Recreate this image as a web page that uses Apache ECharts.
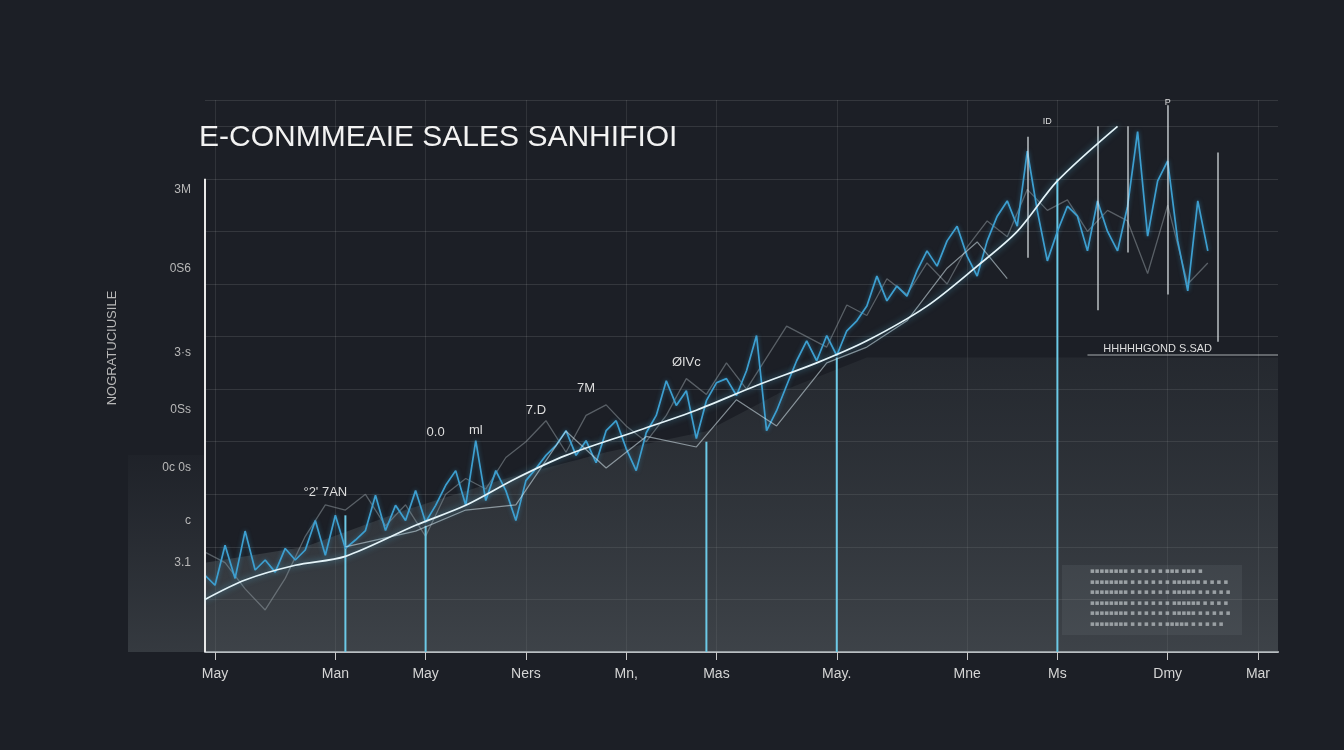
<!DOCTYPE html>
<html>
<head>
<meta charset="utf-8">
<script src="https://cdn.jsdelivr.net/npm/echarts@6/dist/echarts.min.js"></script>
<style>
  html, body { margin: 0; padding: 0; background: #1c1f26; }
  #chart { width: 1344px; height: 750px; }
</style>
</head>
<body>
<div id="chart"></div>
<script>
// x positions are category slots 0..107, labels only on a few of them
var slotCount = 108;
var tickIdx = [1, 13, 22, 32, 42, 51, 63, 76, 85, 96, 105];
var tickLabels = ['May', 'Man', 'May', 'Ners', 'Mn,', 'Mas', 'May.', 'Mne', 'Ms', 'Dmy', 'Mar'];

var yLabelVals = [88, 73, 57, 46, 35, 25, 17];
var yLabelText = ['3M', '0S6', '3·s', '0Ss', '0c 0s', 'c', '3.1'];

// white trend line
var trendIdx = [0, 4, 9, 14, 21, 26, 31, 36, 43, 49, 55, 61, 66, 72, 77, 81, 85, 91];
var trendVal = [10, 13.7, 16.5, 18.2, 24.1, 27.9, 33, 37.4, 42, 46, 50.7, 55, 59.2, 65.8, 73.4, 80, 89.6, 100];

// second, dimmer white zigzag
var zigIdx = [14, 21, 26, 31, 36, 40, 44, 49, 53, 57, 62, 66, 70, 74, 77, 80];
var zigVal = [20, 23, 27, 28, 42, 35, 41, 39, 48, 43, 55, 58, 63, 73, 78, 71];

// jagged cyan sales line, one value per slot 0..100
var cyanVal = [14.6, 12.7, 20.3, 14, 23, 15.6, 17.5, 15.2, 19.7, 17.5,
  19.4, 25, 18.4, 26, 19.7, 21.3, 23.1, 29.8, 23.1, 27.9,
  25, 30.7, 24.7, 27.9, 31.7, 34.5, 27.9, 40.2, 28.8, 34.5,
  30.7, 25, 32.6, 34.9, 37.4, 39.3, 42.1, 37.4, 40.2, 36,
  42.1, 44, 38.7, 34.5, 41.7, 45, 51.6, 46.9, 49.7, 40.6,
  47.8, 51.2, 52, 48.8, 53.5, 60.2, 42.1, 45.9, 50.7, 55.4,
  59.2, 55.4, 60.2, 56.4, 61.1, 63, 65.8, 71.5, 66.8, 69.6,
  67.7, 72.5, 76.3, 73.4, 78.2, 81, 75.3, 71.5, 78.2, 82.9,
  85.8, 81, 95.3, 83.9, 74.4, 80, 84.8, 82.9, 76.3, 85.8,
  80, 76.3, 84.8, 99, 79.1, 89.6, 93.4, 78.2, 68.7, 85.8, 76.3];

// faded gray line, every other slot
var grayIdx = [0, 2, 4, 6, 8, 10, 12, 14, 16, 18, 20, 22, 24, 26, 28, 30, 32, 34, 36, 38,
  40, 42, 44, 46, 48, 50, 52, 54, 56, 58, 60, 62, 64, 66, 68, 70, 72, 74, 76, 78,
  80, 82, 84, 86, 88, 90, 92, 94, 96, 98, 100];
var grayVal = [19, 17, 12, 8, 14, 22, 28, 27, 30, 24, 28, 22, 30, 33, 31, 37, 40, 44, 38, 45,
  47, 43, 40, 45, 52, 49, 55, 50, 56, 62, 60, 58, 66, 64, 71, 68, 74, 70, 77, 82,
  79, 88, 84, 86, 80, 84, 82, 72, 85, 70, 74];

// shaded region under the data
var shadeIdx = [0, 10, 20, 30, 40, 50, 58, 66, 107];
var shadeVal = [17, 20, 27, 33, 38, 42, 50, 56, 56];

// thin vertical bars from the baseline
var spikeIdx = [14, 22, 50, 63, 85];
var spikeVal = [26, 24, 40, 56, 90];

// floating vertical segments at the top right
var segIdx = [82, 89, 92, 96, 101];
var segLow = [75, 65, 76, 68, 59];
var segHigh = [98, 100, 100, 104, 95];

// small annotation texts
var noteIdx = [12, 23, 27, 33, 38, 48, 95, 84, 96];
var noteVal = [30.4, 41.7, 42.2, 46, 50.2, 55, 57.6, 101, 104.5];
var noteText = ["°2' 7AN", '0.0', 'ml', '7.D', '7M', 'ØIVc', 'HHHHHGOND S.SAD', 'ID', 'P'];

function zip(a, b) { return a.map(function (v, i) { return [v, b[i]]; }); }

var categories = [];
for (var i = 0; i < slotCount; i++) categories.push(String(i));

var narrow = "'Liberation Sans Narrow','Liberation Sans',Arial,sans-serif";

var chart = echarts.init(document.getElementById('chart'));

var option = {
  backgroundColor: '#1c1f26',
  animation: false,
  title: {
    text: 'E-CONMMEAIE SALES SANHIFIOI',
    left: 194,
    top: 118,
    textStyle: { color: '#f2f2f2', fontSize: 30, fontWeight: 'normal', fontFamily: narrow }
  },
  grid: { left: 205, right: 66, top: 100, bottom: 98 },
  xAxis: {
    type: 'category',
    data: categories,
    boundaryGap: false,
    axisLine: { lineStyle: { color: '#b9bec2', width: 2 } },
    axisTick: {
      length: 8,
      interval: function (idx) { return tickIdx.indexOf(idx) >= 0; },
      lineStyle: { color: '#c8c8c8' }
    },
    axisLabel: {
      interval: function (idx) { return tickIdx.indexOf(idx) >= 0; },
      formatter: function (v, idx) {
        var k = tickIdx.indexOf(idx);
        return k >= 0 ? tickLabels[k] : '';
      },
      color: '#d5d5d5',
      fontSize: 14,
      margin: 15,
      fontFamily: narrow
    },
    splitLine: {
      show: true,
      interval: function (idx) { return tickIdx.indexOf(idx) >= 0; },
      lineStyle: { color: 'rgba(255,255,255,0.09)' }
    }
  },
  yAxis: [{
    type: 'value',
    min: 0,
    max: 105,
    interval: 10,
    axisLine: { show: false },
    axisTick: { show: false },
    axisLabel: { show: false },
    splitLine: { lineStyle: { color: 'rgba(255,255,255,0.11)' } }
  }, {
    type: 'value',
    position: 'left',
    min: 0,
    max: 105,
    interval: 1,
    axisLine: { show: false },
    axisTick: { show: false },
    splitLine: { show: false },
    axisLabel: {
      color: '#b8b8b8',
      fontSize: 12,
      margin: 14,
      fontFamily: narrow,
      formatter: function (v) {
        var k = yLabelVals.indexOf(Math.round(v));
        return k >= 0 ? yLabelText[k] : '';
      }
    }
  }],
  graphic: [
    {
      type: 'rect',
      z: -1,
      shape: { x: 128, y: 455, width: 77, height: 197 },
      style: {
        fill: new echarts.graphic.LinearGradient(0, 0, 0, 1, [
          { offset: 0, color: 'rgba(90,98,102,0.05)' },
          { offset: 1, color: 'rgba(100,108,112,0.35)' }
        ])
      }
    },
    {
      type: 'text',
      x: 112,
      y: 348,
      rotation: Math.PI / 2,
      style: {
        text: 'NOGRATUCIUSILE',
        fill: '#b8b8b8',
        font: "13px 'Liberation Sans',sans-serif",
        align: 'center',
        verticalAlign: 'middle'
      }
    },
    {
      type: 'rect',
      shape: { x: 1062, y: 565, width: 180, height: 70 },
      style: { fill: 'rgba(120,128,132,0.18)' }
    },
    {
      type: 'text',
      x: 1090,
      y: 566,
      style: {
        text: '▪▪▪▪▪▪▪▪ ▪ ▪ ▪ ▪ ▪ ▪▪▪ ▪▪▪ ▪\n▪▪▪▪▪▪▪▪ ▪ ▪ ▪ ▪ ▪ ▪ ▪▪▪▪▪▪ ▪ ▪ ▪ ▪\n▪▪▪▪▪▪▪▪ ▪ ▪ ▪ ▪ ▪ ▪ ▪▪▪▪▪ ▪ ▪ ▪ ▪ ▪\n▪▪▪▪▪▪▪▪ ▪ ▪ ▪ ▪ ▪ ▪ ▪▪▪▪▪▪ ▪ ▪ ▪ ▪\n▪▪▪▪▪▪▪▪ ▪ ▪ ▪ ▪ ▪ ▪ ▪▪▪▪▪ ▪ ▪ ▪ ▪ ▪\n▪▪▪▪▪▪▪▪ ▪ ▪ ▪ ▪ ▪ ▪▪▪▪▪ ▪ ▪ ▪ ▪ ▪',
        fill: 'rgba(225,230,232,0.8)',
        font: "7px 'DejaVu Sans',sans-serif",
        lineHeight: 10.5
      }
    }
  ],
  series: [
    {
      name: 'shade',
      type: 'line',
      data: zip(shadeIdx, shadeVal),
      symbol: 'none',
      silent: true,
      z: 1,
      lineStyle: { opacity: 0 },
      areaStyle: {
        color: new echarts.graphic.LinearGradient(0, 0, 0, 1, [
          { offset: 0, color: 'rgba(80,88,92,0.25)' },
          { offset: 1, color: 'rgba(105,113,117,0.62)' }
        ])
      }
    },
    {
      name: 'spikes',
      type: 'bar',
      data: zip(spikeIdx, spikeVal),
      barWidth: 2,
      z: 3,
      itemStyle: { color: '#6cc9e6' }
    },
    {
      name: 'gray',
      type: 'line',
      data: zip(grayIdx, grayVal),
      symbol: 'none',
      z: 2,
      lineStyle: { color: 'rgba(150,160,165,0.5)', width: 1.3 }
    },
    {
      name: 'cyan',
      type: 'line',
      data: cyanVal,
      symbol: 'none',
      z: 4,
      lineStyle: { color: '#3d9fd0', width: 1.7, shadowBlur: 4, shadowColor: 'rgba(60,160,210,0.5)' }
    },
    {
      name: 'zig',
      type: 'line',
      data: zip(zigIdx, zigVal),
      symbol: 'none',
      z: 4,
      lineStyle: { color: 'rgba(215,232,238,0.55)', width: 1.2 }
    },
    {
      name: 'trend',
      type: 'line',
      data: zip(trendIdx, trendVal),
      symbol: 'none',
      smooth: 0.3,
      z: 5,
      lineStyle: { color: '#e4f3f8', width: 1.7, shadowBlur: 6, shadowColor: 'rgba(90,200,240,0.6)' },
      markLine: {
        silent: true,
        symbol: 'none',
        label: { show: false },
        lineStyle: { type: 'solid' },
        data: [
          [{ coord: [0, 0], lineStyle: { color: '#e8e8e8', width: 2 } }, { coord: [0, 90] }],
          [{ coord: [88, 56.5], lineStyle: { color: 'rgba(200,205,208,0.55)', width: 1.5 } }, { coord: [107, 56.5] }]
        ].concat(segIdx.map(function (x, i) {
          return [
            { coord: [x, segLow[i]], lineStyle: { color: 'rgba(225,232,235,0.75)', width: 1.6 } },
            { coord: [x, segHigh[i]] }
          ];
        }))
      },
      markPoint: {
        silent: true,
        symbolSize: 0,
        label: {
          show: true,
          formatter: '{b}',
          color: '#dedede',
          fontSize: 13,
          fontFamily: narrow
        },
        data: noteIdx.map(function (x, i) {
          return {
            name: noteText[i],
            coord: [x, noteVal[i]],
            label: i >= 6 ? { fontSize: i === 6 ? 11 : 9 } : {}
          };
        })
      }
    }
  ]
};

option && chart.setOption(option);
</script>
</body>
</html>
